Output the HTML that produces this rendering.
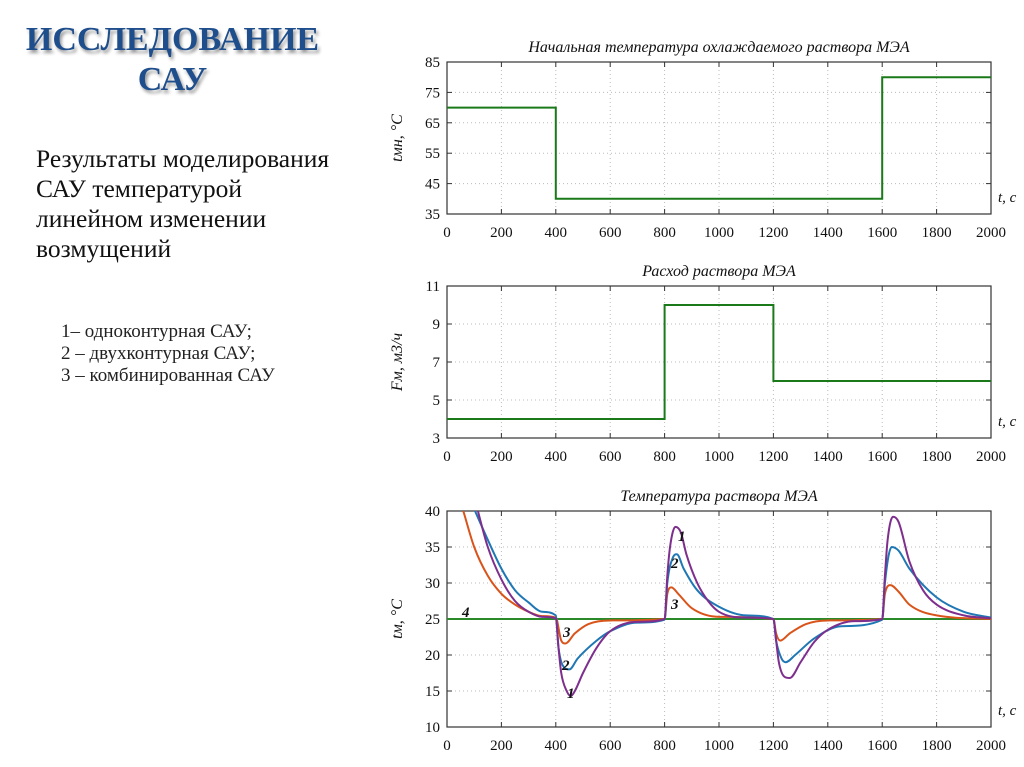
<!DOCTYPE html>
<html><head><meta charset="utf-8"><style>
body{margin:0;background:#fff;width:1024px;height:767px;overflow:hidden;position:relative;font-family:"Liberation Serif",serif}
.t{position:absolute;}
</style></head><body>
<div class="t" style="left:0;top:20px;width:345px;text-align:center;font-size:34px;font-weight:bold;color:#1f4e8c;line-height:40px;text-shadow:2px 3px 3px #999">ИССЛЕДОВАНИЕ<br>САУ</div>
<div class="t" style="left:36px;top:144px;font-size:25.5px;line-height:30px;color:#111">Результаты моделирования<br>САУ температурой<br>линейном изменении<br>возмущений</div>
<div class="t" style="left:61px;top:321px;font-size:19px;line-height:22px;color:#222">1– одноконтурная САУ;<br>2 – двухконтурная САУ;<br>3 – комбинированная САУ</div>
<svg id="s" width="1024" height="767" style="position:absolute;left:0;top:0" font-family="Liberation Serif, serif"></svg>
<script>
const xTicks=[0,200,400,600,800,1000,1200,1400,1600,1800,2000];
const c1Ticks=[35,45,55,65,75,85];
const c1T=[0,400,400,1600,1600,2000];
const c1V=[70,70,40,40,80,80];
const c2Ticks=[3,5,7,9,11];
const c2T=[0,800,800,1200,1200,2000];
const c2V=[4,4,10,10,6,6];
const c3Ticks=[10,15,20,25,30,35,40];
const s1T=[100,150,200,250,300,350,400,410,420,440,455,470,500,550,600,700,800,810,820,840,860,880,920,960,1000,1100,1200,1210,1220,1240,1260,1300,1350,1400,1500,1600,1610,1620,1640,1660,1700,1750,1800,1900,2000];
const s1V=[42,35,30.5,27.5,26,25.3,25.1,21,17.5,15,14.3,15,17.5,21,23.3,24.6,25,31,35,37.8,37,34,30,27.5,26,25.2,25,22,19,17,16.8,19,21.8,23.5,24.7,25,31,36,39.2,38.5,33,29,27,25.5,25.1];
const s2T=[80,150,200,250,300,350,400,410,430,450,480,550,600,700,800,810,830,845,870,920,1000,1100,1200,1210,1230,1245,1280,1350,1450,1600,1610,1635,1660,1700,1800,1900,2000];
const s2V=[42,36,32,29,27.3,26,25.5,21,18.3,18,19.5,22,23.3,24.5,24.9,30,33.5,34,32,29,26.7,25.5,25,22,19.5,19,20,22.3,24,24.9,30,35,34.5,32,28,26,25.2];
const s3T=[60,100,150,200,250,300,350,400,420,435,470,520,600,800,810,825,850,900,1000,1200,1210,1225,1260,1320,1400,1600,1610,1630,1660,1700,1800,2000];
const s3V=[40,35,31,28.5,27,26,25.4,25.2,22,21.6,23,24.3,24.8,25,28.5,29.4,28.5,26.5,25.3,25,23,22,23,24.3,24.8,25,28.5,29.7,28.8,27,25.5,25];
const s4T=[0,2000];const s4V=[25,25];
const svg=document.getElementById('s');const NS='http://www.w3.org/2000/svg';
function el(tag,at,txt){const e=document.createElementNS(NS,tag);for(const k in at)e.setAttribute(k,at[k]);if(txt!==undefined)e.textContent=txt;svg.appendChild(e);return e;}
const X0=447,X1=991;
function sx(t){return X0+(t-0)/2000*(X1-X0);}
function chart(id,top,bot,ticks,title,ylab){
  const lo=ticks[0],hi=ticks[ticks.length-1];
  const sy=v=>bot-(v-lo)/(hi-lo)*(bot-top);
  xTicks.forEach(t=>{
    const g=el('line',{x1:sx(t),x2:sx(t),y1:top,y2:bot,stroke:'#bbb','stroke-dasharray':'1,3'});
    
    const l=el('text',{x:sx(t),y:bot+23,'text-anchor':'middle','font-size':15,fill:'#111'},t);
    
    el('line',{x1:sx(t),x2:sx(t),y1:bot,y2:bot-5,stroke:'#333'});el('line',{x1:sx(t),x2:sx(t),y1:top,y2:top+5,stroke:'#333'});
  });
  ticks.forEach(v=>{
    const g=el('line',{x1:X0,x2:X1,y1:sy(v),y2:sy(v),stroke:'#bbb','stroke-dasharray':'1,3'});
    
    const l=el('text',{x:X0-7,y:sy(v)+5,'text-anchor':'end','font-size':15,fill:'#111'},v);
    
    el('line',{x1:X0,x2:X0+5,y1:sy(v),y2:sy(v),stroke:'#333'});el('line',{x1:X1,x2:X1-5,y1:sy(v),y2:sy(v),stroke:'#333'});
  });
  const f=el('rect',{x:X0,y:top,width:X1-X0,height:bot-top,fill:'none',stroke:'#333','stroke-width':1.2});
  
  const tt=el('text',{x:(X0+X1)/2,y:top-10,'text-anchor':'middle','font-size':16,'font-style':'italic',fill:'#111'},title);
  
  const cy=(top+bot)/2;
  const yl=el('text',{x:0,y:0,'text-anchor':'middle','font-size':16,'font-style':'italic',fill:'#111',transform:`translate(${X0-45},${cy}) rotate(-90)`},ylab);
  
  const xl=el('text',{x:998,y:bot-12,'font-size':15,'font-style':'italic',fill:'#111'},'t, c');
  
  const cp=el('clipPath',{id:'cp'+id});const r=document.createElementNS(NS,'rect');
  r.setAttribute('x',X0);r.setAttribute('y',top);r.setAttribute('width',X1-X0);r.setAttribute('height',bot-top);cp.appendChild(r);
  return sy;
}
function line(sy,id,T,V,color,name,smooth){
  const P=T.map((t,i)=>[sx(t),sy(V[i])]);
  let d='M'+P[0][0]+','+P[0][1];
  if(!smooth||P.length<3){for(let i=1;i<P.length;i++)d+=' L'+P[i][0]+','+P[i][1];}
  else{
    const n=P.length,dl=[],m=[];
    for(let i=0;i<n-1;i++)dl.push((P[i+1][1]-P[i][1])/(P[i+1][0]-P[i][0]));
    m[0]=dl[0];m[n-1]=dl[n-2];
    for(let i=1;i<n-1;i++){m[i]=(dl[i-1]*dl[i]<=0)?0:(dl[i-1]+dl[i])/2;}
    for(let i=0;i<n-1;i++){
      if(dl[i]===0){m[i]=0;m[i+1]=0;continue;}
      const a=m[i]/dl[i],b=m[i+1]/dl[i],s=a*a+b*b;
      if(s>9){const tt=3/Math.sqrt(s);m[i]=tt*a*dl[i];m[i+1]=tt*b*dl[i];}
    }
    for(let i=0;i<n-1;i++){const h=(P[i+1][0]-P[i][0])/3;
      d+=` C${P[i][0]+h},${P[i][1]+m[i]*h} ${P[i+1][0]-h},${P[i+1][1]-m[i+1]*h} ${P[i+1][0]},${P[i+1][1]}`;}
  }
  const p=el('path',{d:d,fill:'none',stroke:color,'stroke-width':2,'clip-path':'url(#cp'+id+')'});
  
}
const y1=chart('c1',62,214,c1Ticks,'Начальная температура охлаждаемого раствора МЭА','tмн, °C');
line(y1,'c1',c1T,c1V,'#1a7a1a','initial-temp-line',false);
const y2=chart('c2',286,438,c2Ticks,'Расход раствора МЭА','Fм, м3/ч');
line(y2,'c2',c2T,c2V,'#1a7a1a','flow-line',false);
const y3=chart('c3',511,727,c3Ticks,'Температура  раствора МЭА','tм, °C');
line(y3,'c3',s4T,s4V,'#2a8a2a','series-4-setpoint',false);
line(y3,'c3',s3T,s3V,'#d9541a','series-3-combined',true);
line(y3,'c3',s2T,s2V,'#1f77b4','series-2-double-loop',true);
line(y3,'c3',s1T,s1V,'#7e2f8e','series-1-single-loop',true);
[['1',678,541],['2',671,568],['3',671,609],['4',462,617],['3',563,637],['2',562,670],['1',567,698]].forEach(a=>{
  const e=el('text',{x:a[1],y:a[2],'font-size':15,'font-weight':'bold','font-style':'italic',fill:'#111'},a[0]);
  
});
</script>
</body></html>
